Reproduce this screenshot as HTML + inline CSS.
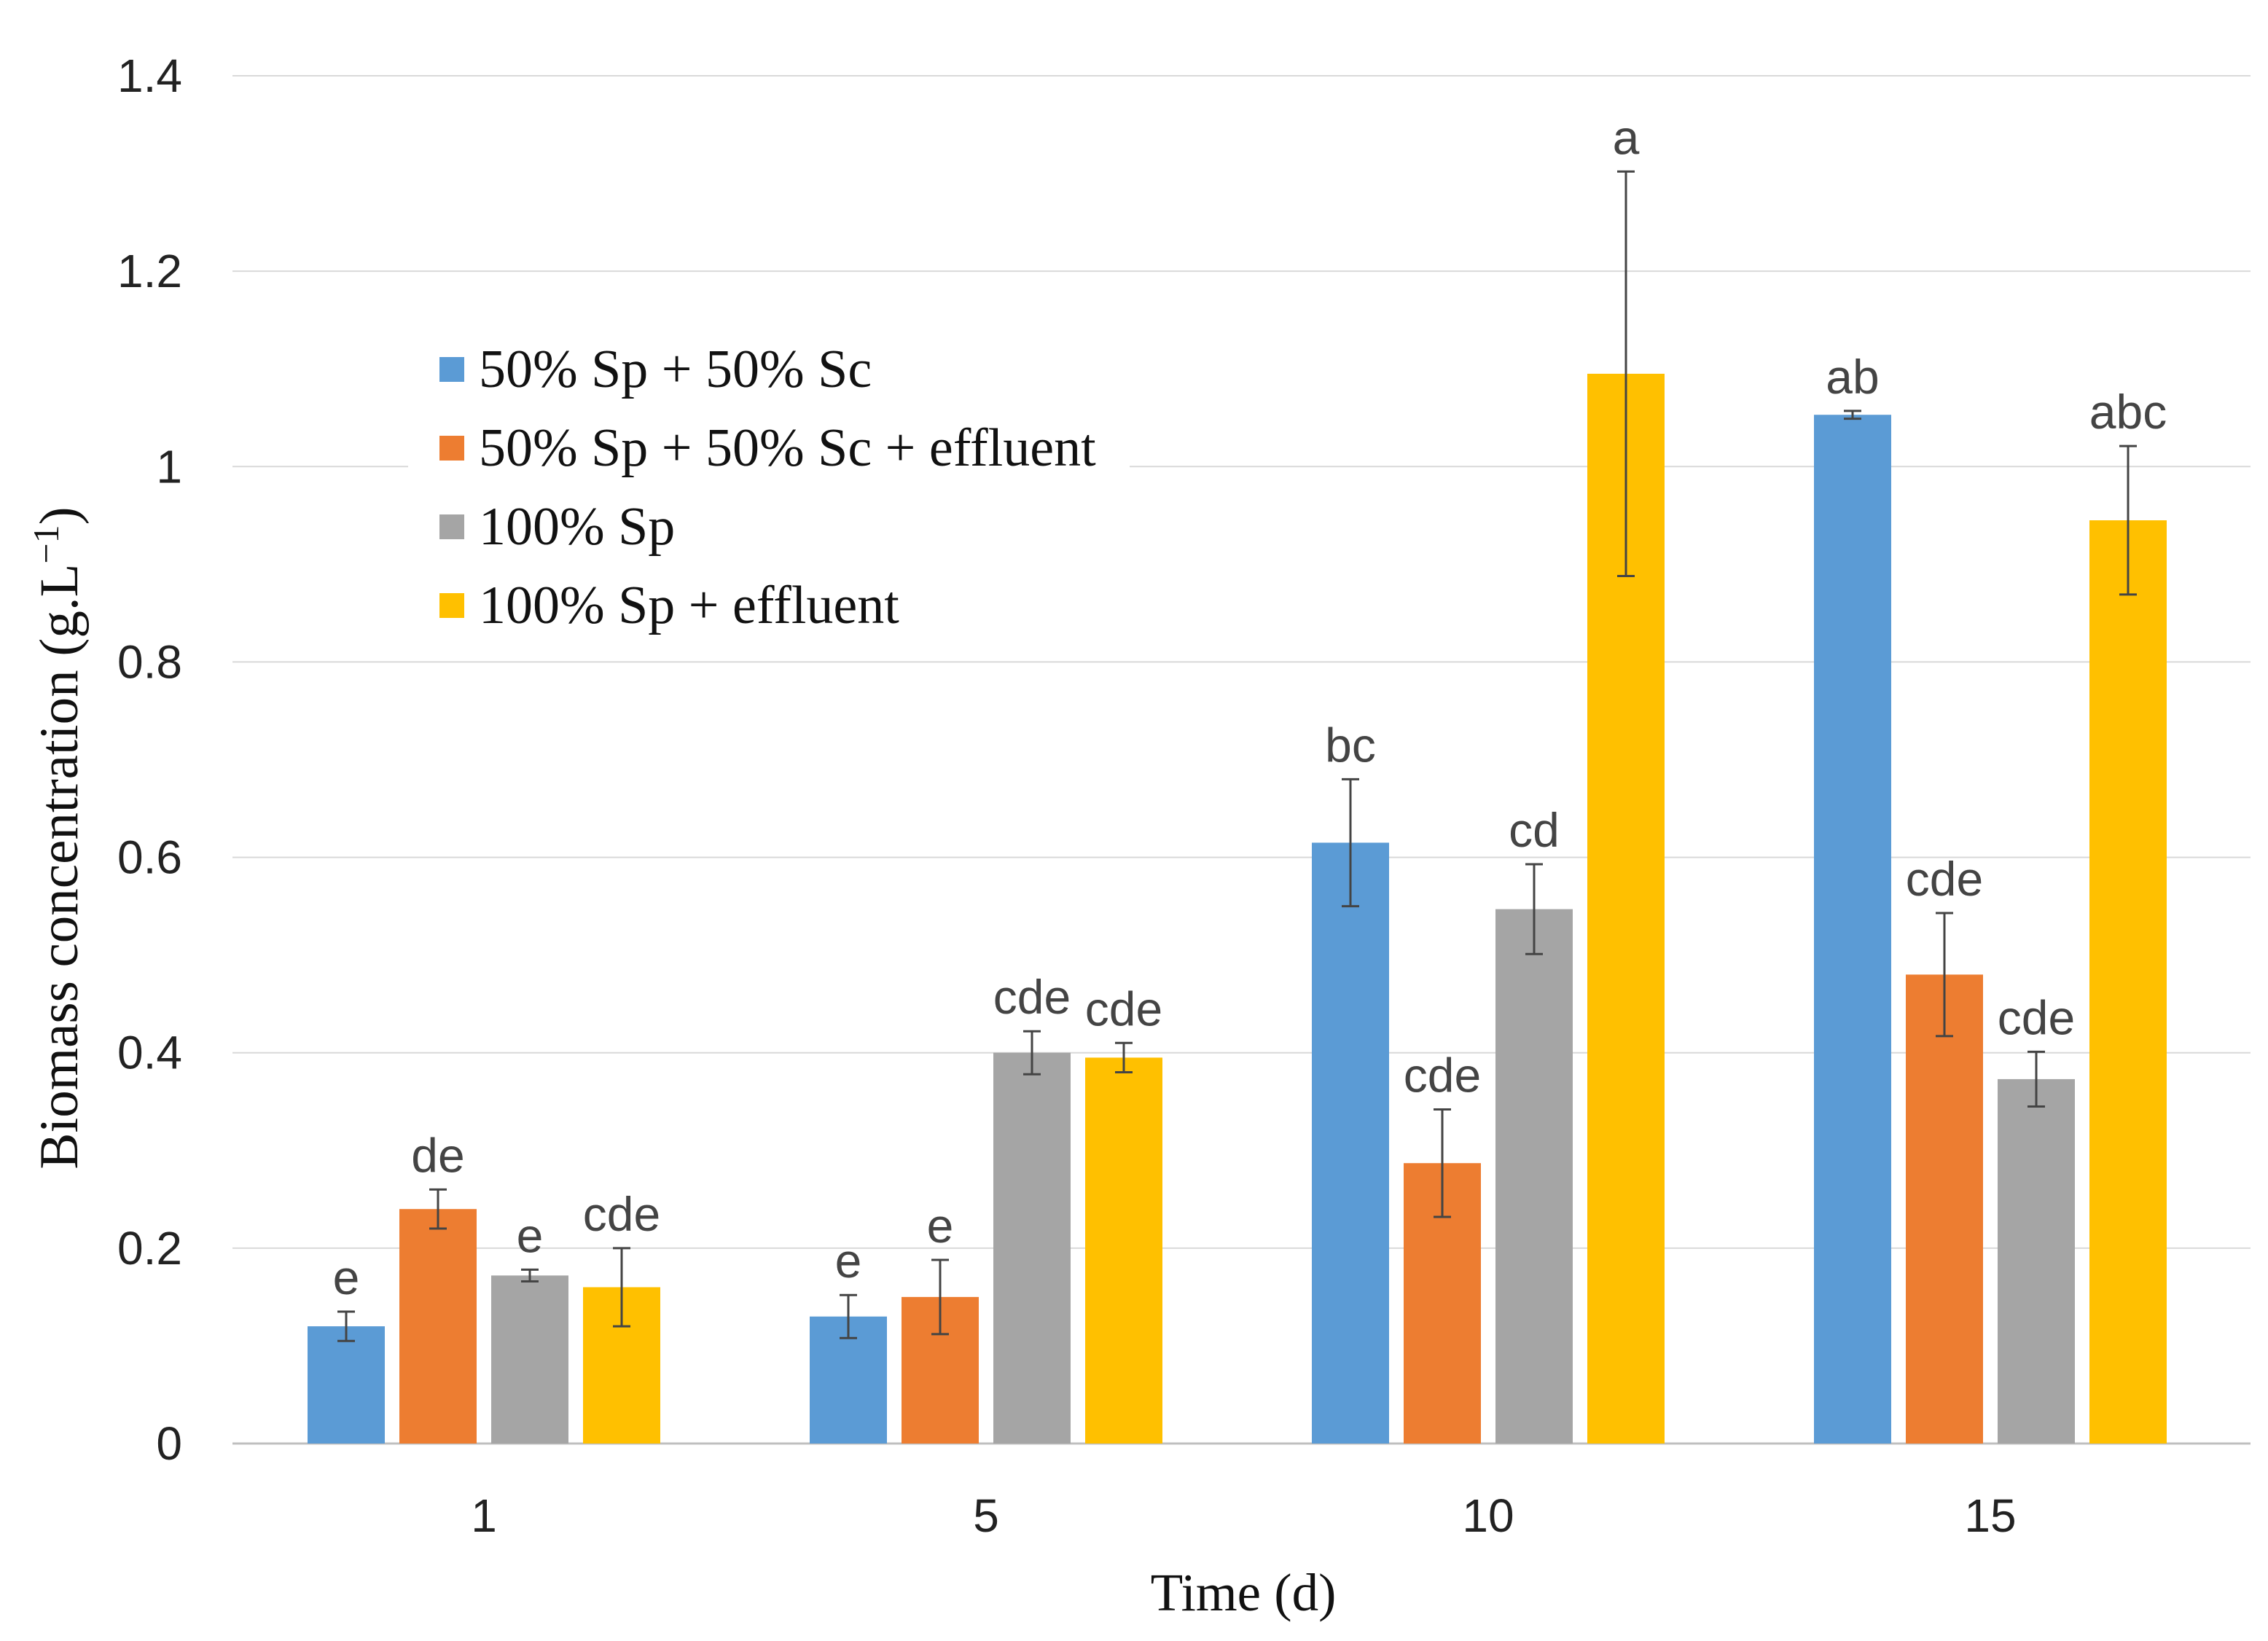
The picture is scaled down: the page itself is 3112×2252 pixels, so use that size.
<!DOCTYPE html>
<html><head><meta charset="utf-8"><style>
body{margin:0;background:#fff}
svg{display:block}
.tick{font-family:"Liberation Sans",sans-serif;font-size:64px;fill:#222}
.lab{font-family:"Liberation Sans",sans-serif;font-size:66px;fill:#444}
.ser{font-family:"Liberation Serif",serif;fill:#111}
</style></head><body>
<svg id="c" width="3112" height="2252" viewBox="0 0 3112 2252" xmlns="http://www.w3.org/2000/svg"></svg>
<script>
const categories=["1","5","10","15"];
const seriesNames=["50% Sp + 50% Sc","50% Sp + 50% Sc + effluent","100% Sp","100% Sp + effluent"];
const colors=["#5b9bd5","#ed7d31","#a5a5a5","#ffc000"];
const s1=[0.12,0.13,0.615,1.053];
const s2=[0.24,0.15,0.287,0.48];
const s3=[0.172,0.40,0.547,0.373];
const s4=[0.16,0.395,1.095,0.945];
const e1=[0.015,0.022,0.065,0.004];
const e2=[0.02,0.038,0.055,0.063];
const e3=[0.006,0.022,0.046,0.028];
const e4=[0.04,0.015,0.207,0.076];
const l1=["e","e","bc","ab"];
const l2=["de","e","cde","cde"];
const l3=["e","cde","cd","cde"];
const l4=["cde","cde","a","abc"];
const yTicks=[0,0.2,0.4,0.6,0.8,1,1.2,1.4];
const yTickLabels=["0","0.2","0.4","0.6","0.8","1","1.2","1.4"];

const svg=document.getElementById('c');
const NS="http://www.w3.org/2000/svg";
const X0=319,X1=3088,Y0=1981,Y1=104;
const y=v=>Y0-(v/1.4)*(Y0-Y1);
const groupW=689;
const cx=i=>664+groupW*i;
const bw=106,step=126;
function mk(t,a,txt){const e=document.createElementNS(NS,t);for(const k in a)e.setAttribute(k,a[k]);if(txt!==undefined)e.textContent=txt;svg.appendChild(e);return e;}

yTicks.forEach((v,i)=>{
  const g=mk('line',{x1:X0,x2:X1,y1:y(v),y2:y(v),stroke:i==0?'#bfbfbf':'#d9d9d9','stroke-width':i==0?3:2});
  
  
  const t=mk('text',{x:250,y:y(v)+22,'text-anchor':'end',class:'tick'},yTickLabels[i]);
  
  
});
categories.forEach((c,i)=>{
  const t=mk('text',{x:cx(i),y:2102,'text-anchor':'middle',class:'tick'},c);
  
  
});
const S=[s1,s2,s3,s4],E=[e1,e2,e3,e4],L=[l1,l2,l3,l4];
S.forEach((s,k)=>{
  s.forEach((v,i)=>{
    const xc=cx(i)+(k-1.5)*step;
    const r=mk('rect',{x:xc-bw/2,y:y(v),width:bw,height:Y0-y(v),fill:colors[k]});
    
    
    const hi=y(v+E[k][i]),lo=y(v-E[k][i]);
    const eb=mk('path',{d:`M${xc} ${hi}V${lo}M${xc-12} ${hi}H${xc+12}M${xc-12} ${lo}H${xc+12}`,stroke:'#444','stroke-width':3,fill:'none'});
    
    
    const t=mk('text',{x:xc,y:hi-24,'text-anchor':'middle',class:'lab'},L[k][i]);
    
    
  });
});
// legend
const lb=mk('rect',{x:560,y:450,width:990,height:420,fill:'#fff'});


seriesNames.forEach((n,k)=>{
  const yy=507+k*108;
  const sq=mk('rect',{x:603,y:yy-17,width:34,height:34,fill:colors[k]});
  
  
  const t=mk('text',{x:657,y:yy+24,class:'ser','font-size':74},n);
  
  
});
const xt=mk('text',{x:1706,y:2210,'text-anchor':'middle',class:'ser','font-size':73},'Time (d)');


const yt=mk('text',{x:0,y:0,'text-anchor':'middle',class:'ser','font-size':75,transform:'translate(106,1150) rotate(-90)'});


yt.innerHTML='Biomass concentration  (g.L<tspan dy="-26" font-size="50">−1</tspan><tspan dy="26">)</tspan>';
</script>
</body></html>
